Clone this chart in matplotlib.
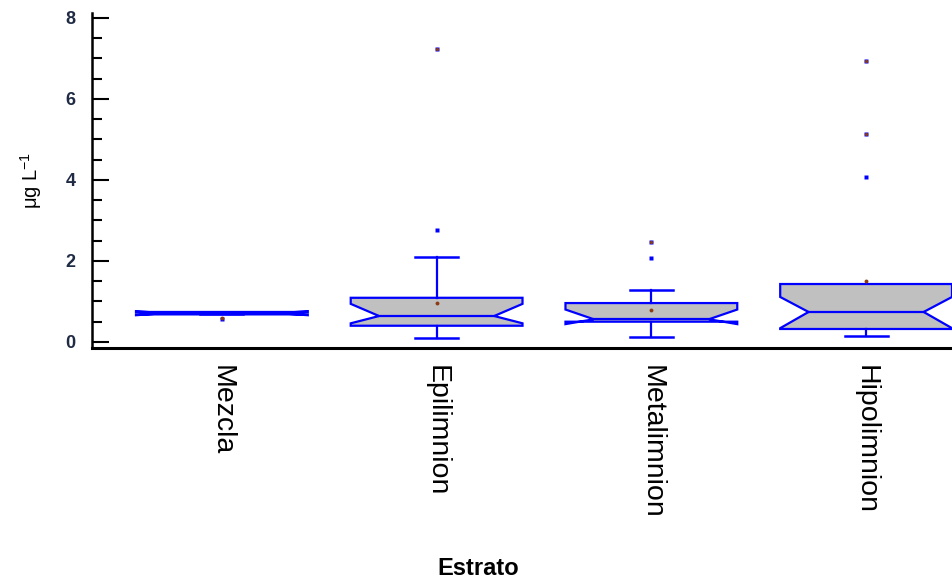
import numpy as np
import matplotlib
matplotlib.use('Agg')
import matplotlib.pyplot as plt
from matplotlib.ticker import MultipleLocator

plt.rcParams['font.family'] = ['Liberation Sans', 'DejaVu Sans']

# resumen por estrato (µg/L)
categorias = ['Mezcla', 'Epilimnion', 'Metalimnion', 'Hipolimnion']
q1 = [0.68, 0.40, 0.50, 0.32]
mediana = [0.71, 0.64, 0.56, 0.74]
q3 = [0.74, 1.09, 0.96, 1.43]
ci_bajo = [0.66, 0.46, 0.44, 0.34]
ci_alto = [0.76, 0.94, 0.80, 1.11]
bigote_bajo = [0.70, 0.10, 0.13, 0.15]
bigote_alto = [0.73, 2.10, 1.28, 1.43]
medias = [0.60, 0.96, 0.79, 1.50]
atipicos = [[0.57], [2.77], [2.07], [4.07]]
muy_atipicos = [[], [7.23], [2.47], [5.13, 6.94]]

azul = '#0000ff'
gris = '#c0c0c0'
cafe = '#8b3c14'

fig = plt.figure(figsize=(9.52, 5.81), dpi=100)
ax = fig.add_axes([0.0966, 0.401, 0.9034, 0.5766])

w = 0.8      # ancho de caja
nw = 0.67    # ancho relativo de la muesca
cw = 0.2     # ancho de los topes
for i in range(len(categorias)):
    bl, br = i - w / 2, i + w / 2
    nl, nr = i - w * nw / 2, i + w * nw / 2
    xs = [bl, br, br, nr, br, br, bl, bl, nl, bl, bl]
    ys = [q1[i], q1[i], ci_bajo[i], mediana[i], ci_alto[i], q3[i],
          q3[i], ci_alto[i], mediana[i], ci_bajo[i], q1[i]]
    ax.fill(xs, ys, facecolor=gris, edgecolor=azul, lw=1.6, zorder=2)
    ax.plot([nl, nr], [mediana[i], mediana[i]], color=azul, lw=1.6, zorder=3)
    # bigotes
    ax.plot([i, i], [q3[i], bigote_alto[i]], color=azul, lw=1.6, zorder=3)
    ax.plot([i, i], [q1[i], bigote_bajo[i]], color=azul, lw=1.6, zorder=3)
    if bigote_alto[i] > q3[i] or i == 0:
        ax.plot([i - cw / 2, i + cw / 2], [bigote_alto[i]] * 2, color=azul, lw=1.8, zorder=3)
    ax.plot([i - cw / 2, i + cw / 2], [bigote_bajo[i]] * 2, color=azul, lw=1.8, zorder=3)
    # puntos
    ax.plot([i] * len(atipicos[i]), atipicos[i], 's', color=azul, ms=3.2, mec='none', zorder=4)
    ax.plot([i] * len(muy_atipicos[i]), muy_atipicos[i], 's', color=azul, ms=3.5, mec='none', zorder=4)
    ax.plot([i] * len(muy_atipicos[i]), muy_atipicos[i], 'o', color=cafe, ms=2.4, mec='none', zorder=5)
    ax.plot([i], [medias[i]], 'o', color=cafe, ms=2.8, mec='none', zorder=5)

ax.set_xlim(-0.605, 3.40)
ax.set_ylim(-0.15, 8.12)
ax.set_xticks(range(len(categorias)))
ax.set_xticklabels(categorias, rotation=270, fontsize=20.5, va='top', ha='center')
ax.tick_params(axis='x', length=0, pad=12)

ax.yaxis.set_major_locator(MultipleLocator(2))
ax.yaxis.set_minor_locator(MultipleLocator(0.5))
ax.tick_params(axis='y', which='major', direction='in', length=12, width=1.5, pad=12,
               labelsize=13, labelcolor='#1f2a44')
ax.tick_params(axis='y', which='minor', direction='in', length=7, width=1.5)
for t in ax.get_yticklabels():
    t.set_fontweight('bold')

for s in ['top', 'right']:
    ax.spines[s].set_visible(False)
ax.spines['left'].set_linewidth(1.8)
ax.spines['bottom'].set_linewidth(2.2)

fig.text(0.033, 0.69, r'μg L$^{\mathregular{-1}}$', rotation=90, fontsize=14.5,
         ha='center', va='center')
fig.text(0.502, 0.022, 'Estrato', fontsize=17, fontweight='bold', ha='center', va='center')

fig.savefig('out.png', dpi=100)
